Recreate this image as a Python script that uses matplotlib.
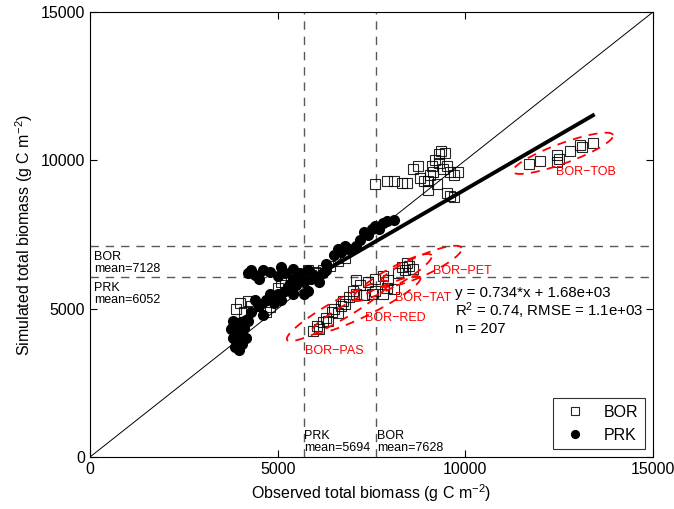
import numpy as np
import matplotlib
matplotlib.use("Agg")
import matplotlib.pyplot as plt

plt.rcParams['font.family'] = ['Liberation Sans', 'DejaVu Sans']
plt.rcParams['mathtext.fontset'] = 'custom'
plt.rcParams['mathtext.rm'] = 'Liberation Sans'
plt.rcParams['mathtext.it'] = 'Liberation Sans'

# observed / simulated total biomass (g C m-2)
prk_x = [3750, 3800, 3820, 3850, 3880, 3900, 3950, 3980, 4000, 4020, 4050, 4100, 4150, 4200,
         4300, 4500, 4600, 4700, 4900, 5000, 5100, 5200, 4400, 4800, 5300, 5400,
         4200, 4400, 4600, 4800, 5000, 5200, 5400, 5600, 4500, 5100, 5500, 4300,
         5500, 5700, 5800, 5900, 6000, 5600, 6100, 6200, 5400, 5800, 6300, 5700,
         6300, 6500, 6600, 6700, 6800, 6900, 7100, 7200, 7300, 7400, 7500, 7600, 7700, 7800, 7900, 8100]
prk_y = [4300, 4600, 4000, 3700, 4450, 3900, 4200, 3600, 4100, 4550, 3800, 4350, 4000, 4600,
         4900, 5100, 4800, 5300, 5200, 5500, 5300, 5600, 5300, 5500, 5800, 5500,
         6200, 6150, 6300, 6250, 6100, 6200, 6350, 6150, 6000, 6400, 6050, 6300,
         5800, 5900, 5600, 6000, 6100, 6200, 5900, 6200, 6000, 6300, 6300, 5500,
         6500, 6800, 7000, 6900, 7100, 7000, 7100, 7300, 7600, 7500, 7700, 7800, 7700, 7900, 7950, 8000]

bor_x = [3900, 4000, 4100, 4300, 4200, 4700, 4800, 5000, 5100, 5200,
         5700, 5900, 6100, 6200, 6400, 6600, 6800, 5800, 6000,
         5950, 6050, 6100, 6200, 6300, 6350, 6450, 6500, 6600, 6700, 6750, 6800,
         6900, 7000, 7100, 7300, 7500, 7600, 7800, 7900, 8100, 7200,
         7400, 7600, 7800, 7950, 7100,
         8200, 8300, 8400, 8500, 8600, 8450,
         7600, 7900, 8100, 8300, 8450, 8600, 8750, 8800, 8900, 9000, 9050, 9100, 9150, 9200,
         9300, 9350, 9250, 9400, 9500, 9600, 9700, 9500, 9600, 9700, 9800, 9300, 9450, 9000,
         11700, 12000, 12450, 12450, 12500, 12800, 13050, 13100, 13400]
bor_y = [5000, 5200, 4900, 5100, 5250, 4900, 5050, 5700, 5900, 5800,
         6100, 6150, 6200, 6300, 6450, 6600, 6700, 6300, 6250,
         4250, 4400, 4300, 4550, 4700, 4600, 4900, 5000, 4850, 5100, 5250, 5150,
         5400, 5600, 5500, 5450, 5500, 5600, 5500, 5700, 5650, 5800,
         5900, 6000, 6100, 5950, 5950,
         6200, 6400, 6300, 6450, 6350, 6550,
         9200, 9300, 9300, 9250, 9250, 9700, 9800, 9400, 9300, 9000, 9500, 9800, 9600, 10000,
         10200, 10300, 9200, 9700, 9800, 9600, 9500, 8900, 8800, 8750, 9600, 9900, 10250, 9300,
         9890, 9980, 10180, 9955, 10050, 10325, 10520, 10450, 10600]

slope, intercept = 0.734, 1.68e3
prk_mean_obs, bor_mean_obs = 5694, 7628
prk_mean_sim, bor_mean_sim = 6052, 7128

# site groups circled on the plot: (end point A, end point B, half width in px, label, label pos)
groups = [
    ((5250, 3950), (7950, 5900), 10, "BOR\u2212PAS", (5728, 3573)),
    ((5900, 4200), (8800, 6050), 10, "BOR\u2212RED", (7326, 4686)),
    ((7000, 5300), (9100, 6800), 9, "BOR\u2212TAT", (8125, 5360)),
    ((7700, 5800), (9900, 7050), 10, "BOR\u2212PET", (9138, 6270)),
    ((11270, 9617), (13933, 10855), 10, "BOR\u2212TOB", (12414, 9607)),
]

fig = plt.figure(figsize=(6.74, 5.09), dpi=100)
ax = fig.add_axes([90 / 674, 52 / 509, 563 / 674, 445 / 509])
ax.set_xlim(0, 15000)
ax.set_ylim(0, 15000)

ax.plot([0, 15000], [0, 15000], color='black', lw=0.7)
for v in (prk_mean_obs, bor_mean_obs):
    ax.axvline(v, color='0.35', ls=(0, (6, 5)), lw=1)
for h in (prk_mean_sim, bor_mean_sim):
    ax.axhline(h, color='0.35', ls=(0, (6, 5)), lw=1)

ax.plot(bor_x, bor_y, 's', mfc='none', mec='black', ms=6.8, mew=0.8, alpha=0.85, label='BOR')
ax.plot(prk_x, prk_y, 'o', mfc='black', mec='black', ms=7, label='PRK')

all_x = np.array(prk_x + bor_x)
xs = np.array([all_x.min(), all_x.max()])
ax.plot(xs, slope * xs + intercept, color='black', lw=2.8)

# dashed red ellipses around site groups, drawn in display space
fig.canvas.draw()
t = np.linspace(0, 2 * np.pi, 200)
for a, b, hw, name, lpos in groups:
    pa = ax.transData.transform(a)
    pb = ax.transData.transform(b)
    c = (pa + pb) / 2
    u = (pb - pa) / 2
    n = np.array([-u[1], u[0]]) / np.hypot(*u) * hw
    pts = c + np.outer(np.cos(t), u) + np.outer(np.sin(t), n)
    d = ax.transData.inverted().transform(pts)
    ax.plot(d[:, 0], d[:, 1], color='red', ls=(0, (5, 4)), lw=1.3)
    ax.text(lpos[0], lpos[1], name, color='red', fontsize=9, va='center', ha='left')

ax.text(100, 6944, "BOR\nmean=7128", fontsize=9, va='top', linespacing=0.95)
ax.text(100, 5900, "PRK\nmean=6052", fontsize=9, va='top', linespacing=0.95)
ax.text(prk_mean_obs + 20, 900, "PRK\nmean=5694", fontsize=9, va='top', linespacing=0.95)
ax.text(bor_mean_obs + 20, 900, "BOR\nmean=7628", fontsize=9, va='top', linespacing=0.95)

ax.text(9724, 5528, "y = 0.734*x + 1.68e+03", fontsize=10.8, va='center')
ax.text(9724, 4922, "R$^2$ = 0.74, RMSE = 1.1e+03", fontsize=10.8, va='center')
ax.text(9724, 4315, "n = 207", fontsize=10.8, va='center')

ax.set_xticks([0, 5000, 10000, 15000])
ax.set_yticks([0, 5000, 10000, 15000])
ax.tick_params(labelsize=11.5, direction='in', length=5, top=True, right=True)
ax.set_xlabel("Observed total biomass (g C m$^{-2}$)", fontsize=11.5)
ax.set_ylabel("Simulated total biomass (g C m$^{-2}$)", fontsize=11.5)

leg = ax.legend(loc='lower right', fontsize=11.5, fancybox=False, edgecolor='black',
                handletextpad=0.8, borderpad=0.4, markerscale=0.8)
leg.get_frame().set_linewidth(0.8)

fig.savefig("out.png", dpi=100)
